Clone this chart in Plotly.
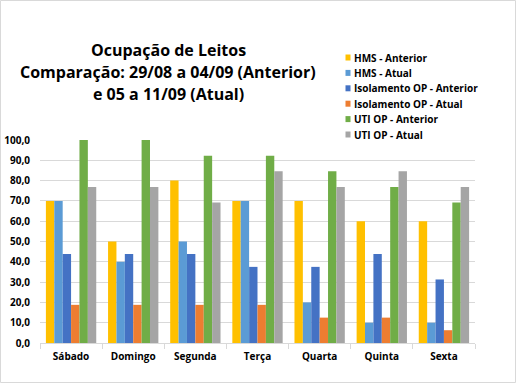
import plotly.graph_objects as go

days = ["Sábado", "Domingo", "Segunda", "Terça", "Quarta", "Quinta", "Sexta"]
series_names = ["HMS - Anterior", "HMS - Atual", "Isolamento OP - Anterior",
                "Isolamento OP - Atual", "UTI OP - Anterior", "UTI OP - Atual"]
hms_anterior = [70.0, 50.0, 80.0, 70.0, 70.0, 60.0, 60.0]
hms_atual = [70.0, 40.0, 50.0, 70.0, 20.0, 10.0, 10.0]
iso_anterior = [43.8, 43.8, 43.8, 37.5, 37.5, 43.8, 31.3]
iso_atual = [18.8, 18.8, 18.8, 18.8, 12.5, 12.5, 6.3]
uti_anterior = [100.0, 100.0, 92.3, 92.3, 84.6, 76.9, 69.2]
uti_atual = [76.9, 76.9, 69.2, 84.6, 76.9, 84.6, 76.9]
colors = ["#FFC000", "#5B9BD5", "#4472C4", "#ED7D31", "#70AD47", "#A5A5A5"]
yticks = [0, 10, 20, 30, 40, 50, 60, 70, 80, 90, 100]
title_lines = ["Ocupação de Leitos", "Comparação: 29/08 a 04/09 (Anterior)", "e 05 a 11/09 (Atual)"]

all_series = [hms_anterior, hms_atual, iso_anterior, iso_atual, uti_anterior, uti_atual]
FONT = "Open Sans"

W, H = 517, 384
ML, MR, MT, MB = 40, 42, 140, 41
PW, PH = W - ML - MR, H - MT - MB


def px(x):
    return (x - ML) / PW


def py(y):
    return (H - MB - y) / PH


fig = go.Figure()
for name, vals, c in zip(series_names, all_series, colors):
    fig.add_trace(go.Bar(x=days, y=vals, name=name, marker=dict(color=c, line=dict(width=0))))

fig.update_layout(
    width=W, height=H,
    margin=dict(l=ML, r=MR, t=MT, b=MB, autoexpand=False),
    paper_bgcolor="white", plot_bgcolor="white",
    barmode="group", bargap=0.19, bargroupgap=0,
    font=dict(family=FONT, color="#000000"),
    showlegend=False,
    yaxis=dict(range=[0, 100], tickvals=yticks,
               ticktext=["<b>" + f"{v:.1f}".replace(".", ",") + "</b>" for v in yticks],
               showgrid=True, gridcolor="#D9D9D9", gridwidth=1, zeroline=False,
               showline=False, ticks="", tickfont=dict(family=FONT, size=10, color="#000"),
               ticklabelstandoff=9, automargin=False, fixedrange=True),
    xaxis=dict(showline=True, linecolor="#D9D9D9", linewidth=1, ticks="outside",
               tickson="boundaries", ticklen=5, tickcolor="#D9D9D9",
               tickvals=days, ticktext=[f"<b>{d}</b>" for d in days],
               ticklabelstandoff=4, automargin=False,
               tickfont=dict(family=FONT, size=10, color="#000")),
)

# title
for i, line in enumerate(title_lines):
    fig.add_annotation(text=f"<b>{line}</b>", xref="paper", yref="paper",
                       x=px(168), y=py(50 + 22 * i),
                       xanchor="center", yanchor="middle", showarrow=False,
                       font=dict(family=FONT, size=16, color="#000"))

# legend (small square keys as in the original)
for i, (name, c) in enumerate(zip(series_names, colors)):
    yc = 57.5 + 15.4 * i
    fig.add_shape(type="rect", xref="paper", yref="paper",
                  x0=px(345.5), x1=px(350.5), y0=py(yc + 3), y1=py(yc - 3),
                  line=dict(width=0), fillcolor=c)
    fig.add_annotation(text=f"<b>{name}</b>", xref="paper", yref="paper",
                       x=px(352), y=py(yc), xanchor="left", yanchor="middle",
                       showarrow=False, font=dict(family=FONT, size=10, color="#000"))

# outer chart border
fig.add_shape(type="rect", xref="paper", yref="paper",
              x0=px(0.5), x1=px(W - 1.5), y0=py(H - 1.5), y1=py(0.5),
              line=dict(color="#D9D9D9", width=1))

fig.write_html("out.html", config={"displayModeBar": False},
               post_script="document.body.style.margin='0';document.body.style.overflow='hidden';")
